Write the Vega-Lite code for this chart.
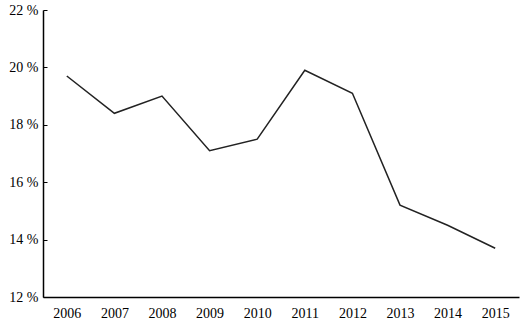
{
  "$schema": "https://vega.github.io/schema/vega-lite/v6.json",
  "width": 476,
  "height": 287,
  "autosize": "none",
  "padding": {"left": 43, "top": 10, "right": 9, "bottom": 27},
  "background": "white",
  "config": {
    "view": {"stroke": null},
    "axis": {"labelColor": "#000", "domainColor": "#000", "tickColor": "#000", "grid": false}
  },
  "data": {
    "values": [
      {"year": "2006", "value": 19.7},
      {"year": "2007", "value": 18.4},
      {"year": "2008", "value": 19.0},
      {"year": "2009", "value": 17.1},
      {"year": "2010", "value": 17.5},
      {"year": "2011", "value": 19.9},
      {"year": "2012", "value": 19.1},
      {"year": "2013", "value": 15.2},
      {"year": "2014", "value": 14.5},
      {"year": "2015", "value": 13.7}
    ]
  },
  "mark": {"type": "line", "color": "#222", "strokeWidth": 1.5},
  "encoding": {
    "x": {
      "field": "year", "type": "ordinal",
      "scale": {"type": "point", "padding": 0.5},
      "axis": {"title": null, "labelAngle": 0, "ticks": false, "labelPadding": 9, "domainWidth": 1.5, "labelFont": "Liberation Serif", "labelFontSize": 14}
    },
    "y": {
      "field": "value", "type": "quantitative",
      "scale": {"domain": [12, 22], "nice": false, "zero": false},
      "axis": {"title": null, "values": [12, 14, 16, 18, 20, 22], "labelExpr": "datum.value + ' %'", "tickSize": -4, "labelPadding": 9, "domainWidth": 1.5, "labelFont": "Liberation Serif", "labelFontSize": 14}
    }
  }
}
